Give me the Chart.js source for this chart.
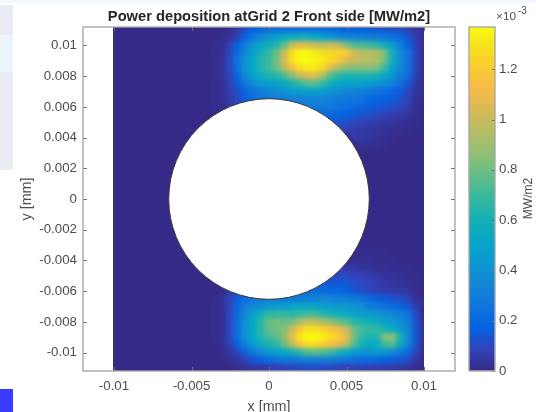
<!DOCTYPE html>
<html><head><meta charset="utf-8">
<style>
html,body{margin:0;padding:0;background:#fff;width:536px;height:412px;overflow:hidden}
canvas{position:absolute;left:0;top:0;filter:blur(0.5px)}
#heat{filter:blur(2px);clip-path:inset(27px 112px 41px 113px)}
.bg{position:absolute}
</style>
<script src="https://cdn.jsdelivr.net/npm/chart.js@4/dist/chart.umd.js"></script>
</head><body>
<div class="bg" style="left:0;top:0;width:536px;height:3px;background:#f2f8fb"></div>
<div class="bg" style="left:0;top:5px;width:13px;height:165px;background:#e9ebf5"></div>
<div class="bg" style="left:0;top:35px;width:13px;height:37px;background:#ebf5fb"></div>
<div class="bg" style="left:0;top:389px;width:13px;height:23px;background:#3b3bff"></div>
<canvas id="heat" width="536" height="412"></canvas>
<canvas id="main" width="536" height="412"></canvas>
<canvas id="bar" width="536" height="412"></canvas>
<script>
const titleText = "Power deposition atGrid 2 Front side [MW/m2]";
const xLabel = "x [mm]", yLabel = "y [mm]", barLabel = "MW/m2";
const xTicks = [-0.01, -0.005, 0, 0.005, 0.01];
const yTicks = [0.01, 0.008, 0.006, 0.004, 0.002, 0, -0.002, -0.004, -0.006, -0.008, -0.01];
const barTicks = [0, 0.2, 0.4, 0.6, 0.8, 1, 1.2];
const xLimit = 0.012, yLimit = 0.0112, imageLimit = 0.01, cellStep = 0.0005, holeRadius = 0.00647;
const colorMax = 1.368;
const valueUnit = 0.01; // stored values are in 1e-5 MW/m2
// parula colour stops: [position, r, g, b]
const parula = [[0,53,42,135],[.0635,50,67,186],[.127,3,99,225],[.19,16,118,220],[.254,20,133,212],[.317,12,152,209],
 [.381,6,167,198],[.444,22,177,180],[.508,56,185,158],[.571,101,190,134],[.635,146,191,115],[.698,183,189,100],
 [.762,217,186,86],[.825,248,186,72],[.889,252,206,46],[.952,245,228,29],[1,249,251,14]];

// columns x = -0.004 ... 0.01 step 0.0005; columns left of them read as 0
const leftZeroColumns = 12;
// y = 0.011 down to 0.0035
const rowsTop = [
[0,0,0,1,5,12,18,21,23,24,25,25,25,25,25,24,22,20,18,18,18,17,15,14,13,11,8,4,1],
[0,0,1,3,8,18,27,35,43,50,54,57,59,60,54,50,44,38,35,33,32,31,30,28,25,20,14,6,2],
[0,1,2,8,18,32,42,52,58,64,76,98,106,106,100,98,100,96,84,74,72,70,66,56,44,32,18,8,2],
[0,1,2,10,22,36,48,60,67,78,100,128,136,136,132,128,126,124,120,104,96,96,94,82,58,36,25,9,2],
[0,1,3,11,26,40,52,64,70,80,102,128,137,137,136,132,128,118,106,100,96,96,94,80,56,38,26,9,2],
[0,1,3,11,24,40,52,64,70,78,94,112,126,132,132,124,104,92,86,84,84,84,82,68,50,36,26,9,2],
[0,1,3,9,20,36,48,58,62,65,72,84,98,106,106,92,74,66,62,62,62,62,60,52,40,30,22,7,2],
[0,1,2,8,16,28,38,46,48,50,55,62,68,74,76,68,58,52,50,50,48,45,42,38,32,24,14,5,1],
[0,1,2,7,12,20,26,31,34,38,41,46,48,50,50,47,43,38,36,33,32,27,25,23,19,15,10,4,1],
[0,1,2,6,10,16,22,26,28,30,31,32,33,34,36,35,33,29,27,26,25,21,20,18,16,13,8,3,1],
[0,1,2,4,8,12,16,20,22,24,26,27,28,28,28,28,28,25,24,22,20,16,15,14,12,10,6,2,0],
[0,0,1,2,4,7,10,12,14,16,18,19,20,20,20,20,20,19,18,16,13,12,10,8,7,6,4,1,0],
[0,0,0,1,2,3,4,5,6,8,9,10,11,12,13,14,14,14,12,10,9,8,6,5,4,3,2,1,0],
[0,0,0,0,0,0,0,0,0,0,0,0,0,0,0,0,0,9,8,7,6,5,4,3,2,2,1,0,0],
[0,0,0,0,0,0,0,0,0,0,0,0,0,0,0,0,0,0,0,6,5,4,3,2,1,0,0,0,0],
[0,0,0,0,0,0,0,0,0,0,0,0,0,0,0,0,0,0,0,0,3,2,2,1,0,0,0,0,0]
];
const yTopStart = 0.011;
// y = -0.0035 down to -0.011
const rowsBottom = [
[0,0,0,0,0,0,0,0,0,0,0,0,0,0,0,0,0,0,0,0,1,1,1,1,0,0,0,0,0],
[0,0,0,0,0,0,0,0,0,0,0,0,0,0,0,0,0,0,0,2,2,2,1,1,1,0,0,0,0],
[0,0,0,0,0,0,0,0,0,0,0,0,0,0,0,0,0,6,6,5,3,3,2,2,1,1,1,0,0],
[0,0,0,1,1,2,3,4,5,6,7,8,9,9,10,10,10,10,10,8,8,6,5,3,3,2,1,1,0],
[0,0,1,2,4,6,7,9,10,11,12,13,14,14,15,15,14,14,14,12,10,9,7,5,4,3,2,1,0],
[0,0,1,4,8,12,15,18,20,22,22,22,22,22,22,21,20,19,18,14,12,10,7,6,5,5,4,1,0],
[0,1,2,9,16,22,25,27,28,28,28,29,30,31,32,34,33,31,30,27,25,20,17,15,13,11,8,3,1],
[0,1,2,9,20,30,36,38,42,45,47,50,52,52,50,47,46,44,44,40,38,30,27,24,21,18,14,6,2],
[0,1,2,10,22,36,48,58,66,68,68,66,68,70,70,64,60,56,55,50,48,44,42,37,34,30,24,10,2],
[0,1,2,10,24,40,54,66,78,80,79,80,90,98,98,92,86,78,74,66,62,58,56,48,44,38,30,12,3],
[0,1,2,10,24,40,54,66,78,80,84,98,118,128,128,122,116,110,100,80,72,68,68,60,54,44,34,14,3],
[0,1,2,10,24,40,52,64,72,76,86,108,132,137,137,134,128,122,110,82,68,62,64,84,86,62,36,14,3],
[0,0,2,8,18,32,44,56,62,66,78,94,116,126,126,120,114,108,96,74,60,54,56,70,74,54,32,13,3],
[0,0,1,4,10,18,28,36,44,48,52,58,66,74,76,74,70,60,54,46,42,42,44,42,36,28,22,9,2],
[0,0,0,2,5,9,14,18,22,25,26,26,30,32,32,31,30,28,26,24,23,22,20,18,16,14,12,5,1],
[0,0,0,0,2,3,4,5,7,8,9,10,11,12,12,11,10,9,8,8,8,7,7,6,6,5,3,1,0]
];
const yBottomStart = -0.0035;

const fontFamily = '"Liberation Sans", Arial, sans-serif';
const textColor = '#4d4d4d', frameColor = '#a9a9a9', tickColor = '#6e6e6e';
const rgbOf = p => `rgb(${p[1]},${p[2]},${p[3]})`;

function colorOf(t){
  t = Math.max(0, Math.min(1, t));
  let i = 0;
  while (i < parula.length - 2 && parula[i + 1][0] < t) i++;
  const a = parula[i], b = parula[i + 1], f = (t - a[0]) / (b[0] - a[0]);
  return `rgb(${[1,2,3].map(k => Math.round(a[k] + (b[k] - a[k]) * f)).join(',')})`;
}

// full grid: rows not listed and columns left of the listed ones read as 0
const cells = [];
function pushRow(y, row){
  for (let c = 0; c < leftZeroColumns + row.length; c++) {
    const v = c < leftZeroColumns ? 0 : row[c - leftZeroColumns];
    cells.push({x: -imageLimit + c * cellStep, y, v});
  }
}
const zeroRow = new Array(rowsTop[0].length).fill(0);
const nRows = Math.round((yTopStart * 2) / cellStep) + 1;
for (let r = 0; r < nRows; r++) {
  const y = +(yTopStart - r * cellStep).toFixed(5);
  const it = Math.round((yTopStart - y) / cellStep);
  const ib = Math.round((yBottomStart - y) / cellStep);
  if (it < rowsTop.length) pushRow(y, rowsTop[it]);
  else if (ib >= 0 && ib < rowsBottom.length) pushRow(y, rowsBottom[ib]);
  else pushRow(y, zeroRow);
}

// MATLAB-style box: frame with inward tick marks on all sides
function boxPlugin(id, xVals, yVals, tickSides){
  return {
    id,
    afterDatasetsDraw(chart){
      const {ctx, chartArea:a, scales} = chart;
      ctx.save();
      ctx.strokeStyle = tickColor; ctx.lineWidth = 1;
      ctx.beginPath();
      const len = tickSides.len;
      if (xVals) xVals.forEach(v => {
        const p = Math.round(scales.x.getPixelForValue(v)) + .5;
        ctx.moveTo(p, a.bottom); ctx.lineTo(p, a.bottom - len);
        ctx.moveTo(p, a.top); ctx.lineTo(p, a.top + len);
      });
      yVals.forEach(v => {
        const p = Math.round(scales.y.getPixelForValue(v)) + .5;
        if (tickSides.left) { ctx.moveTo(a.left, p); ctx.lineTo(a.left + len, p); }
        ctx.moveTo(a.right, p); ctx.lineTo(a.right - len, p);
      });
      ctx.stroke();
      ctx.strokeStyle = frameColor; ctx.lineWidth = 1.4;
      ctx.strokeRect(a.left, a.top, a.right - a.left, a.bottom - a.top);
      ctx.restore();
    }
  };
}

// heat map layer (softened by the page's blur and cut at the image edges)
new Chart(document.getElementById('heat'), {
  type: 'scatter',
  data: { datasets: [
    { data: cells, pointStyle: 'rect', pointBorderWidth: 0,
      pointRadius: ctx => {
        const s = ctx.chart.scales.x;
        return ((s.getPixelForValue(cellStep) - s.getPixelForValue(0)) / 2 + 0.5) * Math.SQRT2;
      },
      pointBackgroundColor: ctx => colorOf(ctx.raw.v * valueUnit / colorMax),
      clip: {left: 20, right: 20, top: 20, bottom: 20}
    }
  ]},
  options: {
    responsive: false, animation: false, events: [],
    layout: { padding: {left: 83, right: 81, top: 27, bottom: 41} },
    plugins: {legend: {display: false}, tooltip: {enabled: false}},
    scales: {
      x: {type: 'linear', display: false, min: -xLimit, max: xLimit},
      y: {type: 'linear', display: false, min: -yLimit, max: yLimit}
    }
  },
  plugins: [{
    id: 'imageBacking',
    beforeDatasetsDraw(chart){
      const {ctx, scales: s} = chart;
      const l = s.x.getPixelForValue(-imageLimit), r = s.x.getPixelForValue(imageLimit);
      ctx.save();
      ctx.fillStyle = rgbOf(parula[0]);
      ctx.fillRect(l - 10, s.y.top - 10, r - l + 20, s.y.bottom - s.y.top + 20);
      ctx.restore();
    }
  }]
});

// axes, title and the hole
new Chart(document.getElementById('main'), {
  type: 'scatter',
  data: { datasets: [
    { data: [{x: 0, y: 0}], pointStyle: 'circle',
      pointBackgroundColor: '#ffffff', pointBorderColor: '#3a3a3a', pointBorderWidth: 1,
      pointRadius: ctx => {
        const s = ctx.chart.scales.x;
        return s.getPixelForValue(holeRadius) - s.getPixelForValue(0);
      }
    }
  ]},
  options: {
    responsive: false, animation: false, events: [],
    layout: { padding: {left: 0, right: 81, top: 0, bottom: 0} },
    plugins: {
      legend: {display: false}, tooltip: {enabled: false},
      title: { display: true, text: titleText, color: '#262626', fullSize: false,
        font: {family: fontFamily, size: 14.7, weight: 'bold', lineHeight: 1.2},
        padding: {top: 8, bottom: 1.36}, position: 'top' }
    },
    scales: {
      x: { type: 'linear', min: -xLimit, max: xLimit,
        afterBuildTicks: s => { s.ticks = xTicks.map(value => ({value})); },
        afterFit: s => { s.height = 41; },
        grid: {drawOnChartArea: false, drawTicks: false},
        border: {display: false},
        ticks: {autoSkip: false, maxRotation: 0, padding: 7, color: textColor,
          font: {family: fontFamily, size: 13.3}, callback: v => String(v)},
        title: {display: true, text: xLabel, color: textColor,
          font: {family: fontFamily, size: 14.3}, padding: {top: 0, bottom: -4}}
      },
      y: { type: 'linear', min: -yLimit, max: yLimit,
        afterBuildTicks: s => { s.ticks = yTicks.map(value => ({value})); },
        afterFit: s => { s.width = 83; },
        grid: {drawOnChartArea: false, drawTicks: false},
        border: {display: false},
        ticks: {autoSkip: false, maxRotation: 0, padding: 6, color: textColor,
          font: {family: fontFamily, size: 13.3}, callback: v => String(v)},
        title: {display: true, text: yLabel, color: textColor,
          font: {family: fontFamily, size: 14.3}, padding: {top: 18, bottom: 0}}
      }
    }
  },
  plugins: [boxPlugin('box', xTicks, yTicks, {left: true, len: 4})]
});

// colour bar: one floating bar filled with the colour map, with its own axis
const barLabels = [''];
const barValues = [[0, colorMax]];
new Chart(document.getElementById('bar'), {
  type: 'bar',
  data: { labels: barLabels, datasets: [{
    data: barValues, barPercentage: 1, categoryPercentage: 1, borderWidth: 0,
    backgroundColor: ctx => {
      const {ctx: c, scales: s} = ctx.chart;
      const y0 = s.y ? s.y.getPixelForValue(0) : NaN, y1 = s.y ? s.y.getPixelForValue(colorMax) : NaN;
      if (!isFinite(y0) || !isFinite(y1)) return rgbOf(parula[0]);
      const g = c.createLinearGradient(0, y0, 0, y1);
      parula.forEach(p => g.addColorStop(p[0], rgbOf(p)));
      return g;
    }
  }]},
  options: {
    responsive: false, animation: false, events: [],
    layout: { padding: {left: 469, right: 0, top: 27, bottom: 41} },
    plugins: {legend: {display: false}, tooltip: {enabled: false}},
    scales: {
      x: { display: false, grid: {display: false} },
      y: { type: 'linear', position: 'right', min: 0, max: colorMax,
        afterBuildTicks: s => { s.ticks = barTicks.map(value => ({value})); },
        afterFit: s => { s.width = 41; },
        grid: {drawOnChartArea: false, drawTicks: false},
        border: {display: false},
        ticks: {autoSkip: false, padding: 4, color: textColor,
          font: {family: fontFamily, size: 13.3}, callback: v => String(v)}
      }
    }
  },
  plugins: [boxPlugin('barBox', null, barTicks, {left: false, len: 3}), {
    id: 'barTexts',
    afterDraw(chart){
      const {ctx} = chart;
      ctx.save();
      ctx.fillStyle = textColor; ctx.textBaseline = 'middle'; ctx.textAlign = 'left';
      ctx.font = `11.8px ${fontFamily}`;
      ctx.fillText('×10', 496, 16.5);
      ctx.font = `10px ${fontFamily}`;
      ctx.fillText('-3', 518, 11);
      ctx.translate(529, 198.5);
      ctx.rotate(-Math.PI / 2);
      ctx.textAlign = 'center';
      ctx.font = `12px ${fontFamily}`;
      ctx.fillText(barLabel, 0, 0);
      ctx.restore();
    }
  }]
});
</script>
</body></html>
